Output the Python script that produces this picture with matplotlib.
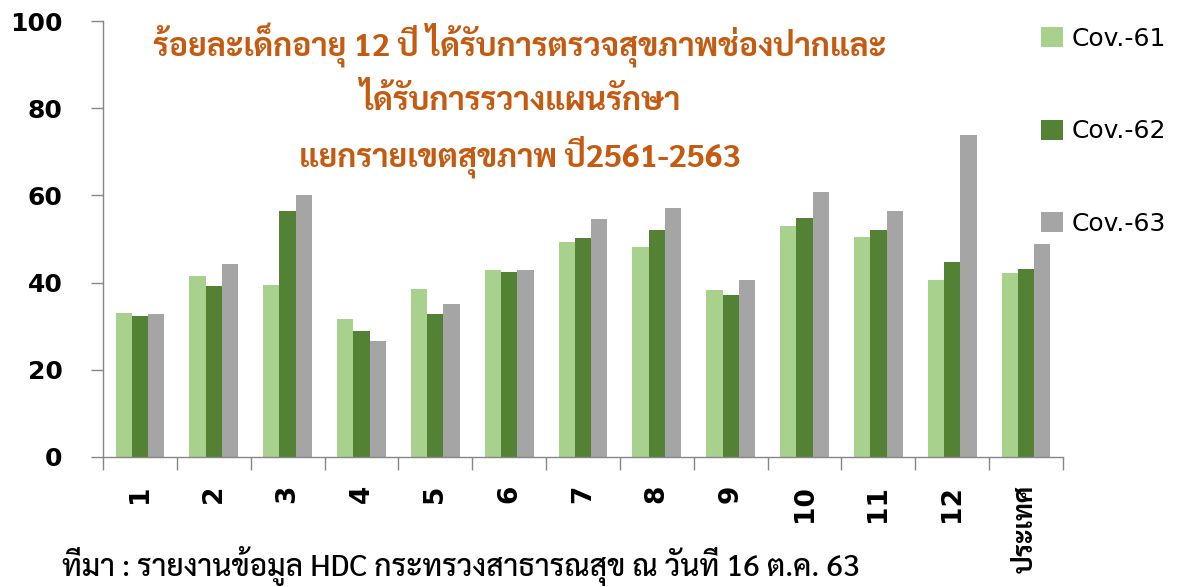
import numpy as np
import matplotlib
matplotlib.use("Agg")
import matplotlib.pyplot as plt

# --- Data ---
regions = ["1", "2", "3", "4", "5", "6", "7", "8", "9", "10", "11", "12", "ประเทศ"]
cov61 = [33.0, 41.4, 39.5, 31.7, 38.6, 43.0, 49.2, 48.2, 38.2, 52.9, 50.4, 40.5, 42.2]
cov62 = [32.3, 39.2, 56.5, 28.8, 32.9, 42.4, 50.2, 52.1, 37.1, 54.9, 52.1, 44.7, 43.2]
cov63 = [32.9, 44.3, 60.2, 26.7, 35.2, 42.9, 54.7, 57.2, 40.5, 60.7, 56.4, 73.8, 48.8]
series_names = ["Cov.-61", "Cov.-62", "Cov.-63"]
colors = ["#A9D18E", "#548235", "#A5A5A5"]

title_lines = [
    "ร้อยละเด็กอายุ 12 ปี ได้รับการตรวจสุขภาพช่องปากและ",
    "ได้รับการรวางแผนรักษา",
    "แยกรายเขตสุขภาพ ปี2561-2563",
]
source_note = "ที่มา : รายงานข้อมูล HDC กระทรวงสาธารณสุข ณ วันที่ 16 ต.ค. 63"

# --- Fonts: Thai needs a Thai family, Latin/digits stay DejaVu ---
thai_fonts = ["Sarabun", "Noto Sans Thai", "Anuphan", "DejaVu Sans"]
latin_fonts = ["DejaVu Sans", "Sarabun", "Noto Sans Thai", "Anuphan"]

fig = plt.figure(figsize=(11.78, 5.87), dpi=100)
ax = fig.add_axes([0.0874, 0.2215, 0.815, 0.7427])

x = np.arange(len(regions))
w = 0.22
for i, (vals, name, c) in enumerate(zip([cov61, cov62, cov63], series_names, colors)):
    ax.bar(x + (i - 1) * w, vals, width=w, color=c, label=name, linewidth=0)

ax.set_xlim(-0.5, len(regions) - 0.5)
ax.set_ylim(0, 100)
ax.set_yticks([0, 20, 40, 60, 80, 100])

# major ticks on group boundaries, labels on group centers
ax.set_xticks(np.arange(-0.5, len(regions)))
ax.set_xticklabels([])
ax.set_xticks(x, minor=True)
ax.set_xticklabels(regions, minor=True, rotation=90, va="top", ha="center",
                   fontsize=19, fontweight="bold", family=latin_fonts)
ax.tick_params(axis="x", which="minor", length=0, pad=20)
ax.tick_params(axis="x", which="major", length=9, color="#868686", width=1)
ax.tick_params(axis="y", length=9, color="#868686", width=1, pad=20)
for lbl in ax.get_yticklabels():
    lbl.set_fontsize(18)
    lbl.set_fontweight("bold")
    lbl.set_family(latin_fonts)

for s in ["top", "right"]:
    ax.spines[s].set_visible(False)
for s in ["left", "bottom"]:
    ax.spines[s].set_color("#868686")
    ax.spines[s].set_linewidth(1)

# --- Legend on the right ---
fig.legend(loc="upper left", bbox_to_anchor=(0.865, 0.993), frameon=False,
           prop={"family": latin_fonts, "size": 18}, handlelength=0.85,
           handleheight=0.85, handletextpad=0.35, labelspacing=2.75)

# --- Title (3 lines, orange) ---
for k, line in enumerate(title_lines):
    fig.text(0.4414, 1 - (45 + 56 * k) / 587, line, ha="center", va="center",
             color="#C55A11", fontsize=23, fontweight="bold", family=thai_fonts)

# --- Source note ---
fig.text(62 / 1178, 1 - 566 / 587, source_note, ha="left", va="center",
         color="black", fontsize=21.5, fontweight="medium", family=thai_fonts)

fig.savefig("out.png", dpi=100)
